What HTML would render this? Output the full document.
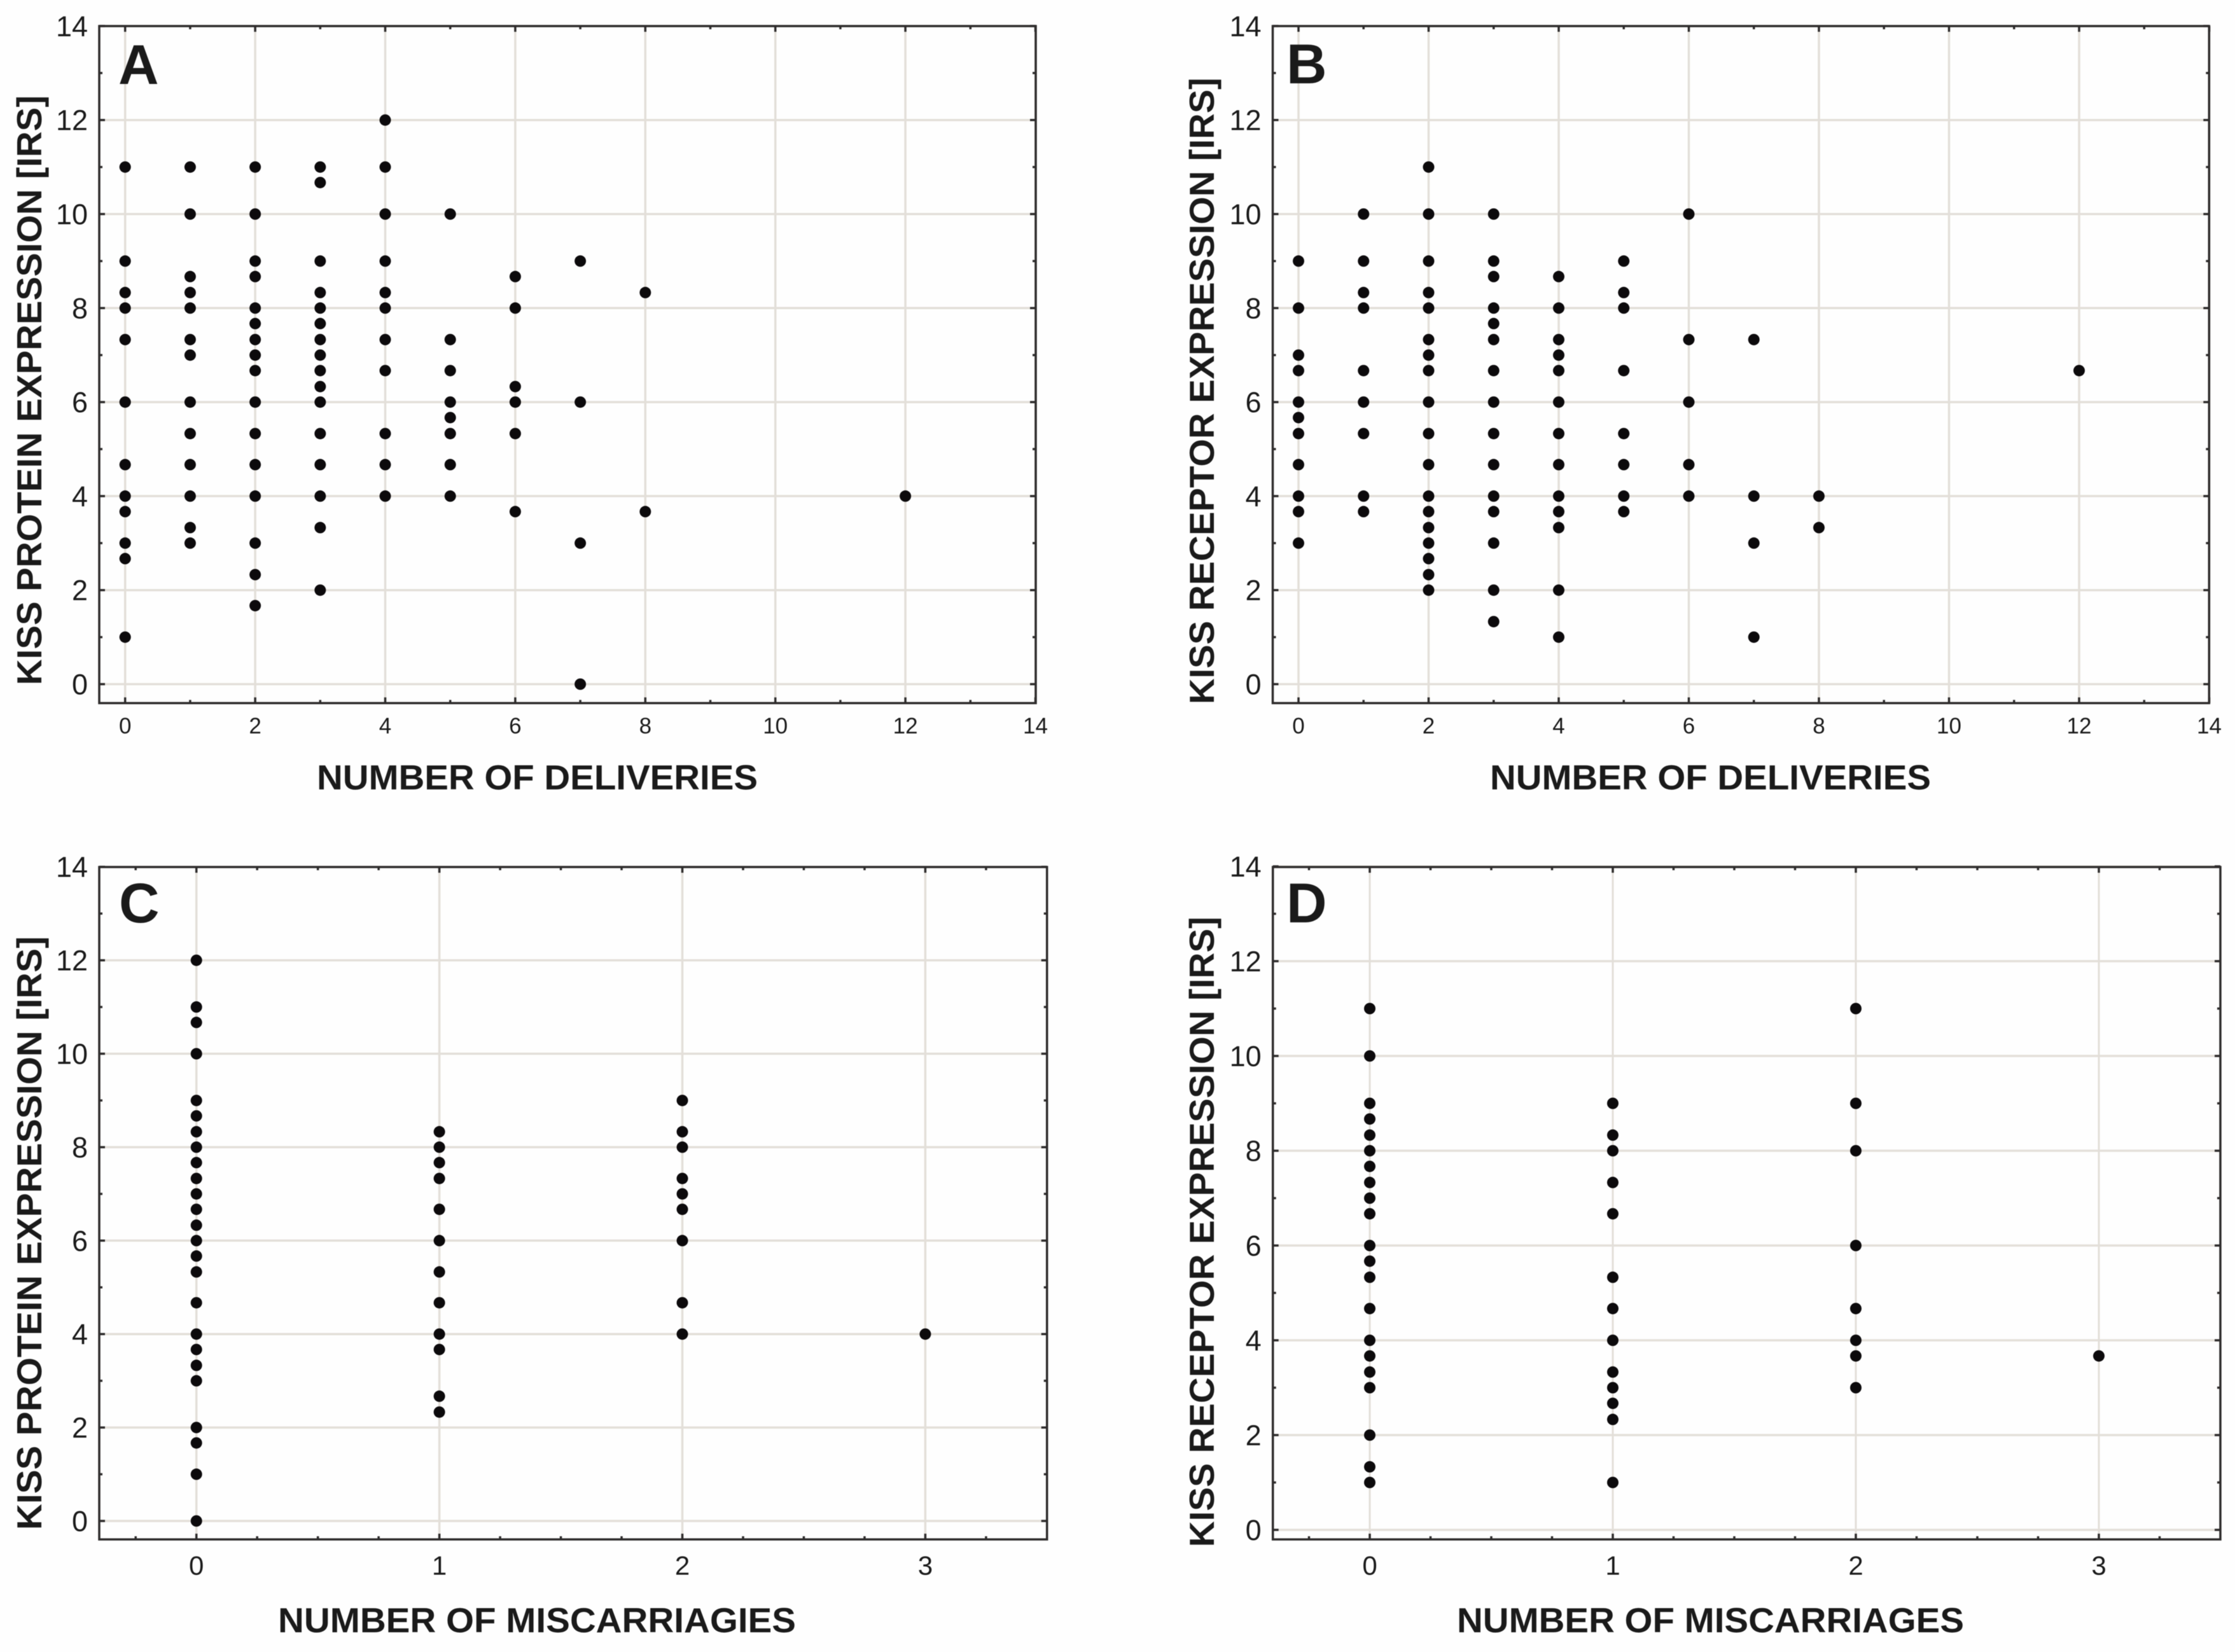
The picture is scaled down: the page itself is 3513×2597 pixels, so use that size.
<!DOCTYPE html>
<html lang="en">
<head>
<meta charset="utf-8">
<title>KISS protein and receptor expression scatter plots</title>
<style>
html,body{margin:0;padding:0;background:#fefefe;}
svg{display:block;filter:blur(0.6px);}
text{font-family:"Liberation Sans",sans-serif;fill:#1a1a1a;}
.ytitle,.xtitle,.letter{font-weight:bold;}
</style>
</head>
<body>
<svg xmlns="http://www.w3.org/2000/svg" width="3513" height="2597" viewBox="0 0 3513 2597">
<rect x="0" y="0" width="3513" height="2597" fill="#fefefe"/>

<g id="panel-a"></g>
<g id="panel-b"></g>
<g id="panel-c"></g>
<g id="panel-d"></g>

<text class="letter" x="186" y="132" font-size="88">A</text>
<text class="letter" x="2022" y="131" font-size="88">B</text>
<text class="letter" x="187" y="1450" font-size="88">C</text>
<text class="letter" x="2022" y="1450" font-size="88">D</text>

<text class="ytitle" transform="translate(65,1077) rotate(-90)" font-size="55" textLength="927" lengthAdjust="spacingAndGlyphs">KISS PROTEIN EXPRESSION [IRS]</text>
<text class="ytitle" transform="translate(1908,1107) rotate(-90)" font-size="55" textLength="985" lengthAdjust="spacingAndGlyphs">KISS RECEPTOR EXPRESSION [IRS]</text>
<text class="ytitle" transform="translate(65,2405) rotate(-90)" font-size="55" textLength="933" lengthAdjust="spacingAndGlyphs">KISS PROTEIN EXPRESSION [IRS]</text>
<text class="ytitle" transform="translate(1908,2432) rotate(-90)" font-size="55" textLength="991" lengthAdjust="spacingAndGlyphs">KISS RECEPTOR EXPRESSION [IRS]</text>

<text class="xtitle" x="498" y="1241" font-size="55" textLength="693" lengthAdjust="spacingAndGlyphs">NUMBER OF DELIVERIES</text>
<text class="xtitle" x="2342" y="1241" font-size="55" textLength="693" lengthAdjust="spacingAndGlyphs">NUMBER OF DELIVERIES</text>
<text class="xtitle" x="437" y="2566" font-size="55" textLength="814" lengthAdjust="spacingAndGlyphs">NUMBER OF MISCARRIAGIES</text>
<text class="xtitle" x="2290" y="2566" font-size="55" textLength="797" lengthAdjust="spacingAndGlyphs">NUMBER OF MISCARRIAGES</text>
</svg>

<script>
// ---- tick labels ----
const yTickLabels = [0, 2, 4, 6, 8, 10, 12, 14];
const yMinorTicks = [1, 3, 5, 7, 9, 11, 13];
const deliveryTickLabels = [0, 2, 4, 6, 8, 10, 12, 14];
const deliveryMinorTicks = [1, 3, 5, 7, 9, 11, 13];
const miscarriageTickLabels = [0, 1, 2, 3];
const miscarriageMinorTicks = [-0.25, 0.25, 0.5, 0.75, 1.25, 1.5, 1.75, 2.25, 2.5, 2.75, 3.25];

// ---- panel A: protein vs deliveries ----
const panelACategories = [0, 1, 2, 3, 4, 5, 6, 7, 8, 12];
const panelAValues = [
  [11, 9, 8.33, 8, 7.33, 6, 4.67, 4, 3.67, 3, 2.67, 1],
  [11, 10, 8.67, 8.33, 8, 7.33, 7, 6, 5.33, 4.67, 4, 3.33, 3],
  [11, 10, 9, 8.67, 8, 7.67, 7.33, 7, 6.67, 6, 5.33, 4.67, 4, 3, 2.33, 1.67],
  [11, 10.67, 9, 8.33, 8, 7.67, 7.33, 7, 6.67, 6.33, 6, 5.33, 4.67, 4, 3.33, 2],
  [12, 11, 10, 9, 8.33, 8, 7.33, 6.67, 5.33, 4.67, 4],
  [10, 7.33, 6.67, 6, 5.67, 5.33, 4.67, 4],
  [8.67, 8, 6.33, 6, 5.33, 3.67],
  [9, 6, 3, 0],
  [8.33, 3.67],
  [4]
];

// ---- panel B: receptor vs deliveries ----
const panelBCategories = [0, 1, 2, 3, 4, 5, 6, 7, 8, 12];
const panelBValues = [
  [9, 8, 7, 6.67, 6, 5.67, 5.33, 4.67, 4, 3.67, 3],
  [10, 9, 8.33, 8, 6.67, 6, 5.33, 4, 3.67],
  [11, 10, 9, 8.33, 8, 7.33, 7, 6.67, 6, 5.33, 4.67, 4, 3.67, 3.33, 3, 2.67, 2.33, 2],
  [10, 9, 8.67, 8, 7.67, 7.33, 6.67, 6, 5.33, 4.67, 4, 3.67, 3, 2, 1.33],
  [8.67, 8, 7.33, 7, 6.67, 6, 5.33, 4.67, 4, 3.67, 3.33, 2, 1],
  [9, 8.33, 8, 6.67, 5.33, 4.67, 4, 3.67],
  [10, 7.33, 6, 4.67, 4],
  [7.33, 4, 3, 1],
  [4, 3.33],
  [6.67]
];

// ---- panel C: protein vs miscarriages ----
const panelCCategories = [0, 1, 2, 3];
const panelCValues = [
  [12, 11, 10.67, 10, 9, 8.67, 8.33, 8, 7.67, 7.33, 7, 6.67, 6.33, 6, 5.67, 5.33, 4.67, 4, 3.67, 3.33, 3, 2, 1.67, 1, 0],
  [8.33, 8, 7.67, 7.33, 6.67, 6, 5.33, 4.67, 4, 3.67, 2.67, 2.33],
  [9, 8.33, 8, 7.33, 7, 6.67, 6, 4.67, 4],
  [4]
];

// ---- panel D: receptor vs miscarriages ----
const panelDCategories = [0, 1, 2, 3];
const panelDValues = [
  [11, 10, 9, 8.67, 8.33, 8, 7.67, 7.33, 7, 6.67, 6, 5.67, 5.33, 4.67, 4, 3.67, 3.33, 3, 2, 1.33, 1],
  [9, 8.33, 8, 7.33, 6.67, 5.33, 4.67, 4, 3.33, 3, 2.67, 2.33, 1],
  [11, 9, 8, 6, 4.67, 4, 3.67, 3],
  [3.67]
];

const NS = 'http://www.w3.org/2000/svg';
const INK = '#2e2c2c';
const GRID = '#e3dfd9';

function add(parent, tag, props) {
  const el = document.createElementNS(NS, tag);
  for (const k in props) el.setAttribute(k, props[k]);
  parent.appendChild(el);
  return el;
}

function drawPanel(cfg) {
  const root = document.getElementById(cfg.id);
  const sx = v => cfg.x0 + v * cfg.ux;
  const sy = v => cfg.y0 - v * cfg.uy;

  // grid
  cfg.xTicks.forEach(v => {
    const g = add(root, 'line', {x1: sx(v), x2: sx(v), y1: cfg.top, y2: cfg.bottom, stroke: GRID, 'stroke-width': cfg.gridV});
    
    
  });
  yTickLabels.forEach(v => {
    const g = add(root, 'line', {x1: cfg.left, x2: cfg.right, y1: sy(v), y2: sy(v), stroke: GRID, 'stroke-width': 3.5});
    
    
  });

  // frame
  const frame = add(root, 'rect', {x: cfg.left, y: cfg.top, width: cfg.right - cfg.left, height: cfg.bottom - cfg.top, fill: 'none', stroke: INK, 'stroke-width': 3.5});
  
  

  // x ticks, top and bottom
  function xTick(v, len, name) {
    [[cfg.bottom, -len], [cfg.top, len]].forEach(pair => {
      const t = add(root, 'line', {x1: sx(v), x2: sx(v), y1: pair[0], y2: pair[0] + pair[1], stroke: INK, 'stroke-width': 3.5});
      
      
    });
  }
  cfg.xTicks.forEach(v => xTick(v, 9, 'x-major-tick'));
  cfg.xMinor.forEach(v => xTick(v, 5, 'x-minor-tick'));

  // y ticks, left and right
  function yTick(v, len, name) {
    [[cfg.left, len], [cfg.right, -len]].forEach(pair => {
      const t = add(root, 'line', {x1: pair[0], x2: pair[0] + pair[1], y1: sy(v), y2: sy(v), stroke: INK, 'stroke-width': 3.5});
      
      
    });
  }
  yTickLabels.forEach(v => yTick(v, 9, 'y-major-tick'));
  yMinorTicks.forEach(v => yTick(v, 5, 'y-minor-tick'));

  // tick labels
  cfg.xTicks.forEach(v => {
    const t = add(root, 'text', {x: sx(v), y: cfg.xLabelY, 'text-anchor': 'middle', 'font-size': cfg.xFont});
    t.textContent = String(v);
    
    
  });
  yTickLabels.forEach(v => {
    const t = add(root, 'text', {x: cfg.left - 18, y: sy(v) + 16, 'text-anchor': 'end', 'font-size': 45});
    t.textContent = String(v);
    
    
  });

  // points
  cfg.categories.forEach((c, i) => {
    cfg.values[i].forEach(val => {
      const p = add(root, 'circle', {cx: sx(c), cy: sy(val), r: 9, fill: '#0c0a0c'});
      
      
    });
  });
}

drawPanel({id: 'panel-a', left: 156, right: 1628, top: 41, bottom: 1105.3, x0: 196.7, ux: 102.2, y0: 1075.5, uy: 73.9,
  xTicks: deliveryTickLabels, xMinor: deliveryMinorTicks, xLabelY: 1153, xFont: 35, gridV: 3.5,
  categories: panelACategories, values: panelAValues});
drawPanel({id: 'panel-b', left: 2000.5, right: 3472.3, top: 41, bottom: 1105.3, x0: 2041, ux: 102.25, y0: 1075.5, uy: 73.9,
  xTicks: deliveryTickLabels, xMinor: deliveryMinorTicks, xLabelY: 1153, xFont: 35, gridV: 3.5,
  categories: panelBCategories, values: panelBValues});
drawPanel({id: 'panel-c', left: 156, right: 1645.7, top: 1363, bottom: 2420, x0: 308.7, ux: 381.9, y0: 2391, uy: 73.45,
  xTicks: miscarriageTickLabels, xMinor: miscarriageMinorTicks, xLabelY: 2475.7, xFont: 42, gridV: 3.5,
  categories: panelCCategories, values: panelCValues});
drawPanel({id: 'panel-d', left: 2000.7, right: 3490, top: 1363, bottom: 2420, x0: 2153, ux: 382, y0: 2405, uy: 74.5,
  xTicks: miscarriageTickLabels, xMinor: miscarriageMinorTicks, xLabelY: 2475.7, xFont: 42, gridV: 3,
  categories: panelDCategories, values: panelDValues});
</script>
</body>
</html>
